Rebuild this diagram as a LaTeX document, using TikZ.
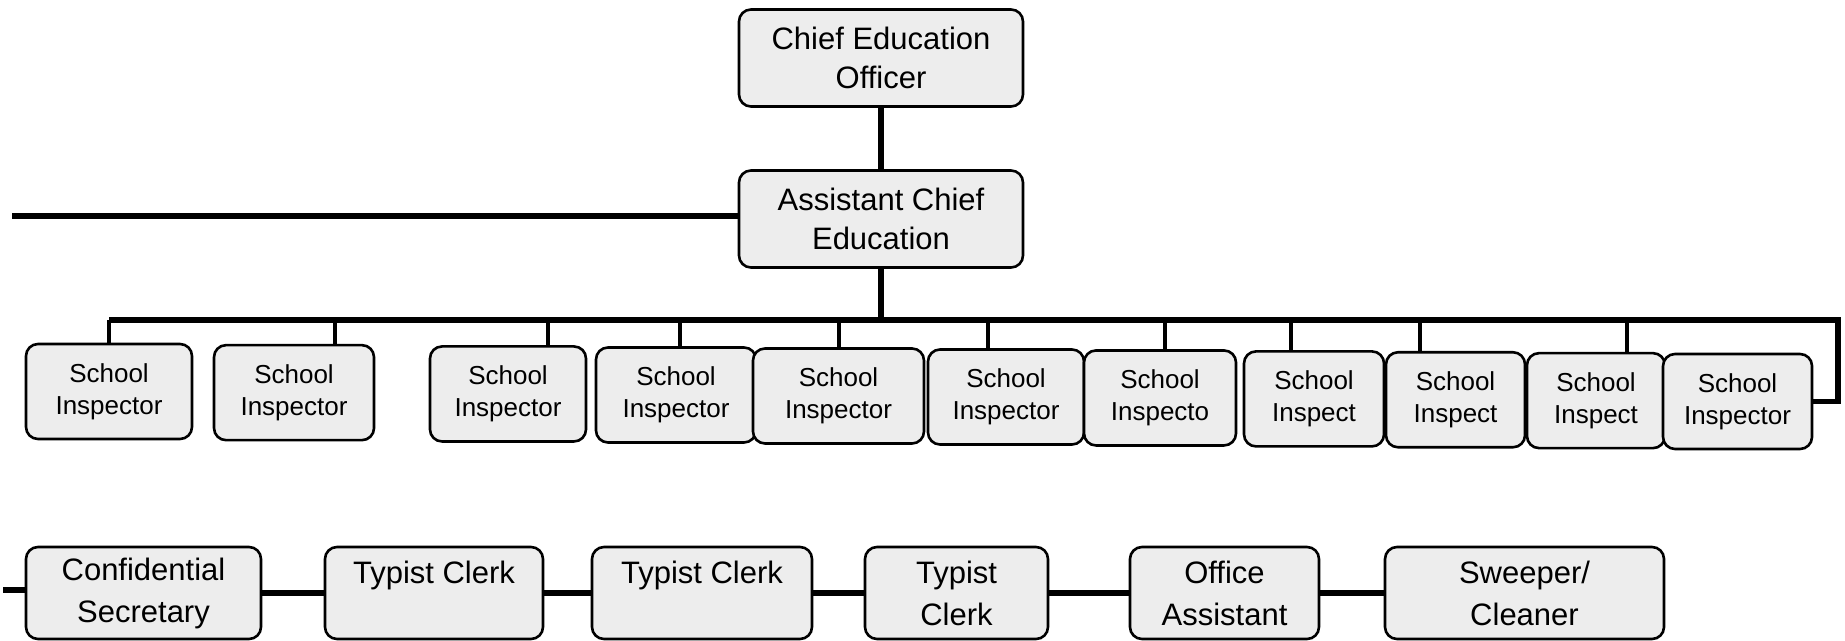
\documentclass[tikz,border=0pt]{standalone}
\usepackage{fontspec}
\setmainfont{Liberation Sans}
\begin{document}
\begin{tikzpicture}[x=0.5pt, y=-0.5pt,
        box/.style={rectangle, rounded corners=6pt, draw=black, line width=1.3pt, fill=black!7, align=center, inner sep=0pt},
        head/.style={box, minimum width=142pt, minimum height=48.5pt, font=\fontsize{15.5}{19.5}\selectfont},
        insp/.style={box, minimum height=47.5pt, font=\fontsize{13}{16}\selectfont},
        staff/.style={box, minimum height=46pt, font=\fontsize{15.5}{21}\selectfont},
        link/.style={line width=2.8pt},
        stem/.style={line width=2.2pt}
    ]
    \useasboundingbox (0,0) rectangle (1845,641);

    % top of the chart
    \node[head] (ceo) at (881,58) {Chief Education\\Officer};
    \node[head] (ace) at (881,219) {Assistant Chief\\Education};
    \draw[link] (ceo.south) -- (ace.north);
    \coordinate (lend) at (12,216);
    \draw[link] (lend) -- (lend -| ace.west);

    % school inspectors
    \foreach \i/\cx/\w/\txt in {1/109/83/Inspector, 2/294/80/Inspector, 3/508/78/Inspector,
            4/676/80/Inspector, 5/838.5/85.5/Inspector, 6/1006/78/Inspector, 7/1160/76/Inspecto,
            8/1314/70/Inspect, 9/1455.5/69.5/Inspect, 10/1596/69/Inspect, 11/1737.5/74.5/Inspector}
        \node[insp, minimum width=\w pt] (i\i) at (\cx,{391.5+(\cx-109)*10/1629}) {School\\\txt};

    \coordinate (barL) at (109,320);
    \coordinate (barR) at (1838,320);
    \draw[link] (ace.south) -- (ace.south |- barL);
    \draw[link] (barL) -- (barR) |- (i11.east);
    \foreach \i/\sx in {1/109, 2/335, 3/548, 4/680, 5/839, 6/988, 7/1165, 8/1291, 9/1420, 10/1627} {
        \coordinate (s\i) at (\sx,320);
        \draw[stem] (s\i) -- (s\i |- i\i.north);
    }

    % office staff
    \node[staff, minimum width=117.5pt] (cs) at (143.5,593) {Confidential\\Secretary};
    \node[staff, minimum width=109pt] (tc1) at (434,593) {Typist Clerk\\\mbox{}};
    \node[staff, minimum width=110pt] (tc2) at (702,593) {Typist Clerk\\\mbox{}};
    \node[staff, minimum width=91.5pt] (tc3) at (956.5,593) {Typist\\Clerk};
    \node[staff, minimum width=94.5pt] (oa) at (1224.5,593) {Office\\Assistant};
    \node[staff, minimum width=139.5pt] (sw) at (1524.5,593) {Sweeper/\\Cleaner};
    \coordinate (send) at (3,590);
    \draw[link] (send) -- (send -| cs.west);
    \draw[link] (cs) -- (tc1) (tc1) -- (tc2) (tc2) -- (tc3) (tc3) -- (oa) (oa) -- (sw);
\end{tikzpicture}
\end{document}
